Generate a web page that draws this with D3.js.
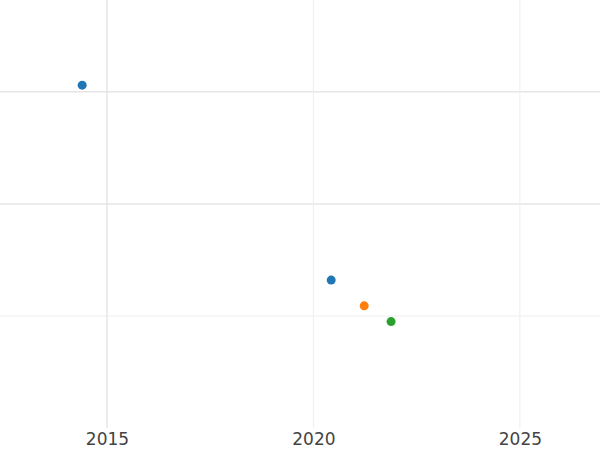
<!DOCTYPE html>
<meta charset="utf-8">
<body style="margin:0">
<script src="https://d3js.org/d3.v7.min.js"></script>
<div id="chart"></div>
<script>
// data
var years = [2014.4, 2020.43, 2021.23, 2021.88]
var values = [3.06, 1.32, 1.09, 0.95]
var groups = ["a", "a", "b", "c"]
var xTicks = [2015, 2020, 2025]
var yTicks = [1, 2, 3]

var width = 600, height = 450

var svg = d3.select("#chart").append("svg")
  .attr("width", width).attr("height", height)
  .style("font-family", "DejaVu Sans, sans-serif")

var x = d3.scaleLinear().domain([2012.41, 2026.94]).range([0, width])
var y = d3.scaleLinear().domain([0, 3.82]).range([428, 0])

var color = d3.scaleOrdinal().domain(["a", "b", "c"]).range(["#1f77b4", "#ff7f0e", "#2ca02c"])

// grid
svg.append("g").selectAll("line").data(yTicks).join("line")
  .attr("x1", 0).attr("x2", width)
  .attr("y1", d => y(d)).attr("y2", d => y(d))
  .style("stroke", d => d === 1 ? "#eeeeee" : "#e6e6e6").style("stroke-width", d => d === 1 ? 1 : 1.5)

svg.append("g").selectAll("line").data(xTicks).join("line")
  .attr("x1", d => x(d)).attr("x2", d => x(d))
  .attr("y1", 0).attr("y2", 428)
  .style("stroke", d => d === 2015 ? "#e6e6e6" : "#eeeeee").style("stroke-width", d => d === 2015 ? 1.5 : 1)

// x axis labels
var xAxis = svg.append("g")
  .attr("transform", "translate(0,428)")
  .call(d3.axisBottom(x).tickValues(xTicks).tickFormat(d3.format("d")).tickSize(0).tickPadding(5))
xAxis.select(".domain").remove()
xAxis.selectAll("text").style("font-size", "17px").style("fill", "#444")
  .style("font-family", "DejaVu Sans, sans-serif")

// points
svg.append("g").selectAll("circle").data(years).join("circle")
  .attr("cx", (d, i) => x(d))
  .attr("cy", (d, i) => y(values[i]))
  .attr("r", 4.5)
  .style("fill", (d, i) => color(groups[i]))
</script>
</body>
